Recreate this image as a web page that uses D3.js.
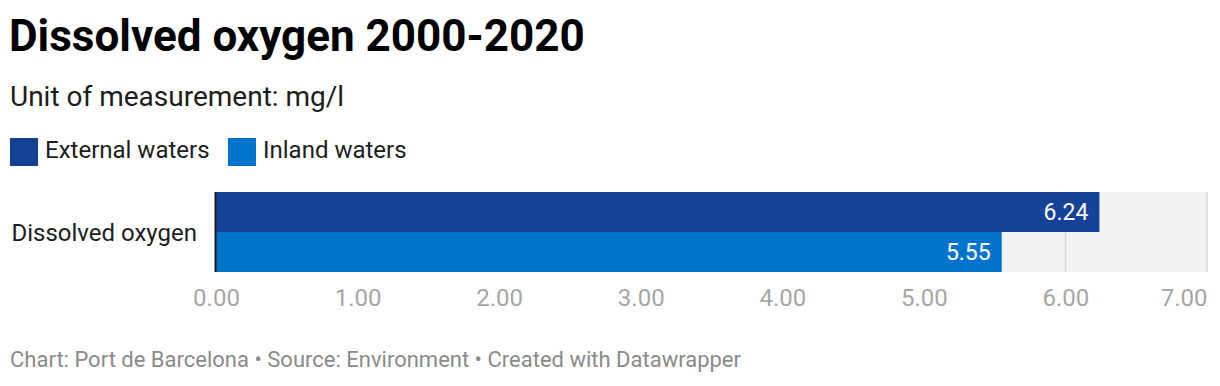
<!DOCTYPE html>
<html>
<head>
<meta charset="utf-8">
<script src="https://cdn.jsdelivr.net/npm/d3@7"></script>
<style>
  body { margin: 0; background: #fff; font-family: Roboto, sans-serif; }
</style>
</head>
<body>
<svg class="chart"></svg>
<script>
var categories = ["Dissolved oxygen"];
var seriesNames = ["External waters", "Inland waters"];
var seriesColors = ["#134296", "#0073cd"];
var externalValues = [6.24];
var inlandValues = [5.55];
var tickValues = [0, 1, 2, 3, 4, 5, 6, 7];

var width = 1220;
var height = 386;

var svg = d3.select(".chart")
  .attr("width", width)
  .attr("height", height)
  .style("font-family", "Roboto, sans-serif");

// header
svg.append("text")
  .attr("x", 9).attr("y", 51)
  .attr("font-size", "44px").attr("font-weight", "bold")
  .attr("fill", "#000")
  .text("Dissolved oxygen 2000-2020");

svg.append("text")
  .attr("x", 10).attr("y", 106)
  .attr("font-size", "28px")
  .attr("fill", "#1d1d1d")
  .text("Unit of measurement: mg/l");

// legend
var legendX = [10, 228];
var legend = svg.append("g");
legend.selectAll("rect")
  .data(seriesNames)
  .enter()
  .append("rect")
  .attr("x", function(d, i) { return legendX[i]; })
  .attr("y", 138)
  .attr("width", 28)
  .attr("height", 28)
  .attr("fill", function(d, i) { return seriesColors[i]; });
legend.selectAll("text")
  .data(seriesNames)
  .enter()
  .append("text")
  .attr("x", function(d, i) { return legendX[i] + 35; })
  .attr("y", 157.5)
  .attr("font-size", "24px")
  .attr("fill", "#1d1d1d")
  .text(function(d) { return d; });

// scales
var x = d3.scaleLinear().domain([0, 7]).range([216, 1207]);
var y = d3.scaleBand().domain(categories).range([192, 272]);
var ySub = d3.scaleBand().domain(seriesNames).range([0, y.bandwidth()]);

var rows = categories.map(function(c, i) {
  return { cat: c, values: [externalValues[i], inlandValues[i]] };
});

// background
svg.selectAll("rect.bg")
  .data(categories)
  .enter()
  .append("rect")
  .attr("class", "bg")
  .attr("x", x(0))
  .attr("y", function(d) { return y(d); })
  .attr("width", x(7) - x(0))
  .attr("height", y.bandwidth())
  .attr("fill", "#f2f2f2");

// grid
svg.selectAll("line.grid")
  .data(tickValues.slice(1))
  .enter()
  .append("line")
  .attr("class", "grid")
  .attr("x1", function(d) { return x(d); })
  .attr("x2", function(d) { return x(d); })
  .attr("y1", 192).attr("y2", 272)
  .attr("stroke", "#d9d9d9")
  .attr("stroke-width", 1.5);

// bars
var group = svg.selectAll("g.row")
  .data(rows)
  .enter()
  .append("g")
  .attr("class", "row")
  .attr("transform", function(d) { return "translate(0," + y(d.cat) + ")"; });

group.selectAll("rect")
  .data(function(d) { return d.values; })
  .enter()
  .append("rect")
  .attr("x", x(0))
  .attr("y", function(d, i) { return ySub(seriesNames[i]); })
  .attr("width", function(d) { return x(d) - x(0); })
  .attr("height", ySub.bandwidth())
  .attr("fill", function(d, i) { return seriesColors[i]; });

group.selectAll("text")
  .data(function(d) { return d.values; })
  .enter()
  .append("text")
  .attr("x", function(d) { return x(d) - 11; })
  .attr("y", function(d, i) { return ySub(seriesNames[i]) + ySub.bandwidth() / 2; })
  .attr("dy", "0.36em")
  .attr("text-anchor", "end")
  .attr("font-size", "23px")
  .attr("fill", "#fff")
  .text(function(d) { return d3.format(".2f")(d); });

// category labels
svg.selectAll("text.cat")
  .data(categories)
  .enter()
  .append("text")
  .attr("class", "cat")
  .attr("x", 197)
  .attr("y", function(d) { return y(d) + y.bandwidth() / 2; })
  .attr("dy", "0.36em")
  .attr("text-anchor", "end")
  .attr("font-size", "24px")
  .attr("fill", "#1d1d1d")
  .text(function(d) { return d; });

// baseline
svg.append("line")
  .attr("x1", x(0) - 0.5).attr("x2", x(0) - 0.5)
  .attr("y1", 192).attr("y2", 272)
  .attr("stroke", "#1d1d1d")
  .attr("stroke-width", 2);

// x axis
var xAxis = d3.axisBottom(x)
  .tickValues(tickValues)
  .tickSize(0)
  .tickPadding(0)
  .tickFormat(d3.format(".2f"));
var axisG = svg.append("g")
  .attr("transform", "translate(0,306)")
  .call(xAxis);
axisG.select(".domain").remove();
axisG.selectAll("text")
  .attr("dy", 0)
  .attr("font-family", "Roboto, sans-serif")
  .attr("font-size", "24px")
  .attr("fill", "#a6a6a6")
  .attr("text-anchor", function(d, i) { return i === tickValues.length - 1 ? "end" : "middle"; });

// footer
svg.append("text")
  .attr("x", 10).attr("y", 367)
  .attr("font-size", "22px")
  .attr("fill", "#8a8a8a")
  .text("Chart: Port de Barcelona \u2022 Source: Environment \u2022 Created with Datawrapper");
</script>
</body>
</html>
